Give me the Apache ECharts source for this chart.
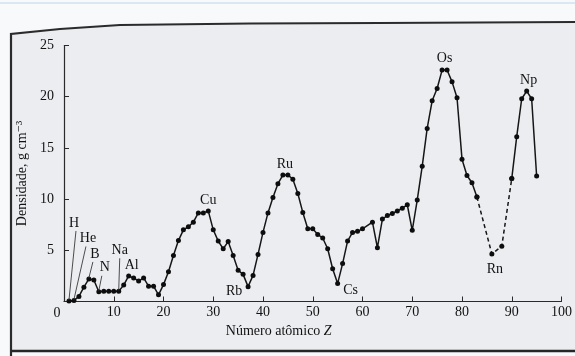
<!DOCTYPE html>
<html>
<head>
<meta charset="utf-8">
<script src="https://cdn.jsdelivr.net/npm/echarts@6/dist/echarts.min.js"></script>
<style>
  html, body { margin: 0; padding: 0; background: #f8f9fb; }
  #chart { width: 575px; height: 356px; }
</style>
</head>
<body>
<div id="chart"></div>
<script>
// atomic number Z and density (g cm-3)
const zMain = [1, 2, 3, 4, 5, 6, 7, 8, 9, 10, 11, 12, 13, 14, 15, 16, 17, 18, 19, 20,
  21, 22, 23, 24, 25, 26, 27, 28, 29, 30, 31, 32, 33, 34, 35, 36, 37, 38, 39, 40,
  41, 42, 43, 44, 45, 46, 47, 48, 49, 50, 51, 52, 53, 54, 55, 56, 57, 58, 59, 60,
  62, 63, 64, 65, 66, 67, 68, 69, 70, 71, 72, 73, 74, 75, 76, 77, 78, 79, 80,
  81, 82, 83];
const densMain = [0.05, 0.1, 0.5, 1.4, 2.2, 2.1, 0.95, 1.0, 1.0, 1.0, 1.0, 1.6, 2.5, 2.3, 2.0, 2.3, 1.5, 1.5, 0.65, 1.65,
  2.9, 4.5, 5.95, 7.0, 7.3, 7.75, 8.65, 8.65, 8.85, 7.0, 5.9, 5.15, 5.85, 4.5, 3.05, 2.65, 1.45, 2.55, 4.6, 6.75,
  8.65, 10.15, 11.5, 12.35, 12.35, 11.95, 10.55, 8.7, 7.1, 7.1, 6.55, 6.2, 5.15, 3.2, 1.75, 3.7, 5.9, 6.75, 6.85, 7.1,
  7.75, 5.25, 8.05, 8.4, 8.6, 8.85, 9.1, 9.45, 6.95, 9.9, 13.2, 16.9, 19.6, 20.8, 22.6, 22.6, 21.45, 19.9, 13.9,
  12.3, 11.6, 10.2];

// dashed stretch across Rn
const zGap = [83, 86, 88, 90];
const densGap = [10.2, 4.65, 5.4, 12.0];

const zTail = [90, 91, 92, 93, 94, 95];
const densTail = [12.0, 16.1, 19.8, 20.55, 19.8, 12.25];

const xTickLabels = [0, 10, 20, 30, 40, 50, 60, 70, 80, 90, 100];
const yTickLabels = [0, 5, 10, 15, 20, 25];

const elementNames = ['H', 'He', 'B', 'N', 'Na', 'Al', 'Cu', 'Rb', 'Ru', 'Cs', 'Os', 'Rn', 'Np'];
const elementZ = [1, 2, 5, 7, 11, 13, 29, 37, 44, 55, 76, 86, 93];

// label placement (pixels from the point), leader lines for the light elements
const labelPlace = {
  H:  { dx: 5,   dy: -78, lead: 2 },
  He: { dx: 14,  dy: -62, lead: -2 },
  B:  { dx: 6,   dy: -25, lead: -2 },
  N:  { dx: 6,   dy: -24, lead: -3 },
  Na: { dx: 1,   dy: -41, lead: 0 },
  Al: { dx: 3,   dy: -11 },
  Cu: { dx: 0,   dy: -11 },
  Rb: { dx: -14, dy: 5 },
  Ru: { dx: 2,   dy: -11 },
  Cs: { dx: 13,  dy: 7 },
  Os: { dx: 2.5, dy: -12 },
  Rn: { dx: 3,   dy: 15 },
  Np: { dx: 2,   dy: -11 }
};

const pairs = (z, d) => z.map((v, i) => [v, d[i]]);
const densityAt = z => {
  let i = zMain.indexOf(z);
  if (i >= 0) return densMain[i];
  i = zGap.indexOf(z);
  if (i >= 0) return densGap[i];
  return densTail[zTail.indexOf(z)];
};

const serif = '"Liberation Serif", "DejaVu Serif", serif';
const ink = '#121212';

const chart = echarts.init(document.getElementById('chart'));

const lineSeries = (data, dashed) => ({
  type: 'line',
  data: data,
  symbol: 'circle',
  symbolSize: 5,
  showSymbol: true,
  itemStyle: { color: '#0d0d0d' },
  lineStyle: { color: '#161616', width: 1.5, type: dashed ? [4, 3] : 'solid' },
  emphasis: { disabled: true },
  z: 3
});

chart.setOption({
  animation: false,
  backgroundColor: '#f8f9fb',
  grid: { left: 64, right: 8, top: 45.5, bottom: 54.5 },
  xAxis: {
    type: 'value',
    min: xTickLabels[0],
    max: xTickLabels[xTickLabels.length - 1],
    interval: xTickLabels[1] - xTickLabels[0],
    name: '{n|Número atômico }{z|Z}',
    nameLocation: 'middle',
    nameGap: 23,
    nameTextStyle: {
      padding: [0, 68, 0, 0],
      rich: {
        n: { fontFamily: serif, fontSize: 14, color: ink },
        z: { fontFamily: serif, fontSize: 14, fontStyle: 'italic', color: ink }
      }
    },
    axisLine: { lineStyle: { color: '#2a2a2a', width: 1.2 } },
    axisTick: { inside: true, length: 5, lineStyle: { color: '#2a2a2a' } },
    axisLabel: {
      margin: 4,
      fontFamily: serif, fontSize: 14, color: ink,
      formatter: v => (v === 0 ? '' : String(v))
    },
    splitLine: { show: false }
  },
  yAxis: {
    type: 'value',
    min: yTickLabels[0],
    max: yTickLabels[yTickLabels.length - 1],
    interval: yTickLabels[1] - yTickLabels[0],
    name: 'Densidade, g cm⁻³',
    nameLocation: 'middle',
    nameRotate: 90,
    nameGap: 28,
    nameTextStyle: { fontFamily: serif, fontSize: 14, color: ink },
    axisLine: { show: true, lineStyle: { color: '#2a2a2a', width: 1.2 } },
    axisTick: { show: true, inside: true, length: 5, lineStyle: { color: '#2a2a2a' } },
    axisLabel: {
      margin: 10,
      fontFamily: serif, fontSize: 14, color: ink,
      formatter: v => (v === 0 ? '' : String(v))
    },
    splitLine: { show: false }
  },
  series: [
    lineSeries(pairs(zMain, densMain), false),
    lineSeries(pairs(zGap, densGap), true),
    lineSeries(pairs(zTail, densTail), false)
  ]
});

// scanned page: paper, frame edges, element labels
const graphics = [
  { type: 'polygon', z: -10, silent: true,
    shape: { points: [[11, 34], [60, 29], [120, 25], [250, 23.5], [380, 23], [575, 22], [575, 351], [11, 351]] },
    style: { fill: '#ebedf0' } },
  { type: 'line', z: -9, silent: true, shape: { x1: 0, y1: 3, x2: 575, y2: 3 },
    style: { stroke: '#dbe7f3', lineWidth: 2 } },
  { type: 'polyline', z: -8, silent: true,
    shape: { points: [[11, 356], [11, 34], [60, 29], [120, 25], [250, 23.5], [380, 23], [575, 22]] },
    style: { stroke: '#2b2b2b', lineWidth: 2.2, fill: null } },
  { type: 'line', z: -8, silent: true, shape: { x1: 11, y1: 351, x2: 575, y2: 351 },
    style: { stroke: '#262626', lineWidth: 2.6 } }
];

const origin = chart.convertToPixel({ gridIndex: 0 }, [0, 0]);
graphics.push({
  type: 'text', silent: true, x: origin[0] - 7, y: origin[1] + 12,
  style: { text: '0', fontFamily: serif, fontSize: 14, fill: ink, align: 'center', verticalAlign: 'middle' }
});

elementNames.forEach((name, i) => {
  const z = elementZ[i];
  const p = chart.convertToPixel({ gridIndex: 0 }, [z, densityAt(z)]);
  const place = labelPlace[name];
  const lx = p[0] + place.dx;
  const ly = p[1] + place.dy;
  graphics.push({
    type: 'text', silent: true, x: lx, y: ly, z: 5,
    style: { text: name, fontFamily: serif, fontSize: 14, fill: ink, align: 'center', verticalAlign: 'middle' }
  });
  if (place.lead !== undefined) {
    graphics.push({
      type: 'line', silent: true, z: 4,
      shape: { x1: lx + place.lead, y1: ly + 8, x2: p[0], y2: p[1] - 1 },
      style: { stroke: '#3a3a3a', lineWidth: 0.9 }
    });
  }
});

chart.setOption({ graphic: graphics });

window.addEventListener('resize', () => chart.resize());
</script>
</body>
</html>
